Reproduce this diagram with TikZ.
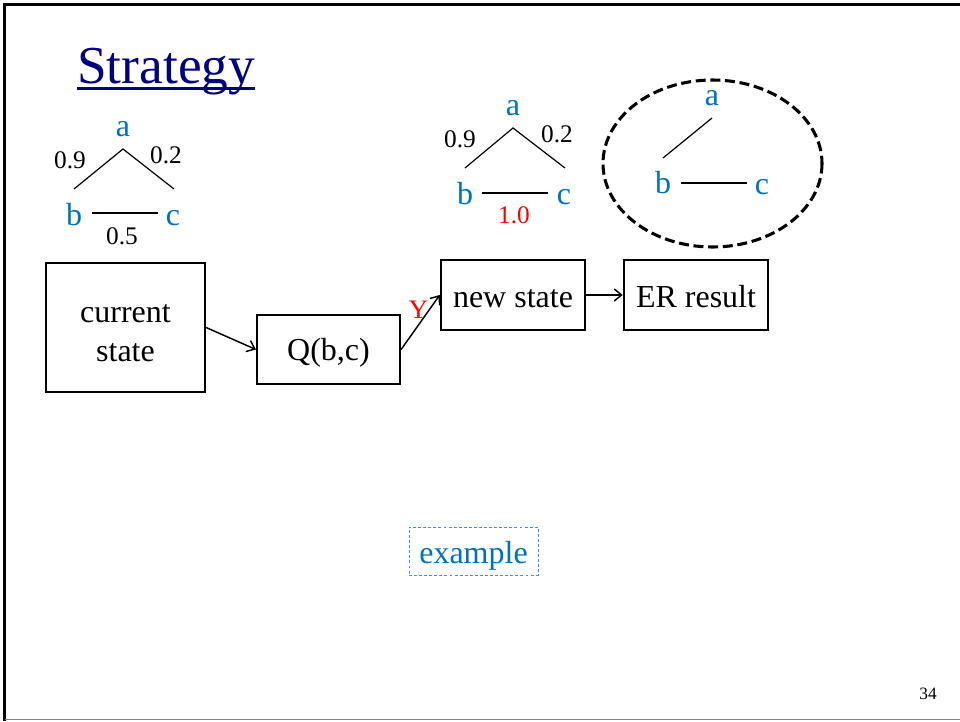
\documentclass[tikz,border=0pt]{standalone}
\usepackage{fontspec}
\setmainfont{Liberation Serif}
\usetikzlibrary{positioning,arrows.meta}
\definecolor{vblue}{RGB}{0,112,192}
\definecolor{titleblue}{RGB}{0,0,128}
\definecolor{red}{RGB}{250,0,0}
\tikzset{
    statebox/.style={
        draw,
        line width=1.9pt,
        minimum width=108pt,
        minimum height=52.5pt,
        inner sep=0pt,
        align=center,
        font=\fontsize{24}{29}\selectfont
    },
    % arrows between the boxes
    flowarrow/.style={
        line width=1.1pt,
        ->,
        >={Straight Barb[length=5.5pt, width=9pt]}
    },
    vertex/.style={text=vblue, anchor=base, inner sep=0pt, font=\fontsize{24}{26}\selectfont},
    weight/.style={anchor=base, inner sep=0pt, font=\fontsize{19}{21}\selectfont},
    thinedge/.style={line width=0.9pt},
    bcedge/.style={line width=1.7pt}
}
\begin{document}
\begin{tikzpicture}[x=0.75pt,y=-0.75pt]
\useasboundingbox (0,0) rectangle (960,721);

% frame
\draw[line width=2.2pt] (4.5,721) -- (4.5,4.5) -- (960,4.5);
\draw[gray, line width=0.8pt] (4.5,719.5) -- (960,719.5);

% title
\node[anchor=base west, inner sep=0pt, text=titleblue, font=\fontsize{40}{44}\selectfont] (title) at (77,83) {Strategy};
\draw[titleblue, line width=2.2pt] ([yshift=-4pt]title.base west) -- ([yshift=-4pt]title.base east);

% ===================== current state graph =====================
\begin{scope}
    \path
    (123,149) coordinate (top1)
    (74,189) coordinate (lf1)
    (174,189) coordinate (rf1)
    (92,213) coordinate (bl1)
    (158,213) coordinate (br1);

    \node[vertex] (a1) at (123,136) {a};
    \node[vertex] (b1) at (74,225) {b};
    \node[vertex] (c1) at (173,225) {c};
    \node[weight] (w1ab) at (70,168) {0.9};
    \node[weight] (w1ac) at (166,163) {0.2};
    \node[weight] (w1bc) at (122,244) {0.5};

    \draw[thinedge] (lf1) -- (top1) -- (rf1);
    \draw[bcedge] (bl1) -- (br1);
\end{scope}

% ===================== new state graph =====================
\begin{scope}
    \path
    (513,128) coordinate (top2)
    (465,168) coordinate (lf2)
    (565,168) coordinate (rf2)
    (482,193) coordinate (bl2)
    (548,193) coordinate (br2);

    \node[vertex] (a2) at (513,115) {a};
    \node[vertex] (b2) at (465,204) {b};
    \node[vertex] (c2) at (564,204) {c};
    \node[weight] (w2ab) at (460,147) {0.9};
    \node[weight] (w2ac) at (557,142) {0.2};
    \node[weight, text=red] (w2bc) at (514,223) {1.0};

    \draw[thinedge] (lf2) -- (top2) -- (rf2);
    \draw[bcedge] (bl2) -- (br2);
\end{scope}

% ===================== ER result =====================
\begin{scope}
    \draw[line width=2.3pt, dash pattern=on 7.5pt off 3.5pt] (712.5,163.5) ellipse [x radius=109.5, y radius=83.5];
    \path
    (712,118) coordinate (top3)
    (663,158) coordinate (lf3)
    (681,183) coordinate (bl3)
    (747,183) coordinate (br3);

    \node[vertex] (a3) at (712,105) {a};
    \node[vertex] (b3) at (663,193) {b};
    \node[vertex] (c3) at (762,194) {c};

    \draw[thinedge] (top3) -- (lf3);
    \draw[bcedge] (bl3) -- (br3);
\end{scope}

% boxes
\node[statebox, minimum width=119pt, minimum height=96.5pt] (cur) at (125.5,327.5) {\rule{0pt}{22pt}current\\state};
\node[statebox, minimum width=107pt, minimum height=51.5pt, text height=18pt, text depth=2pt] (query) at (328.5,349.5) {Q(b,c)};
\node[statebox, text height=18pt, text depth=0pt] (new) at (513,295) {new state};
\node[statebox, text height=18pt, text depth=0pt] (er) at (696,295) {ER result};

\draw[flowarrow] (cur.east) -- (query.west);
\draw[flowarrow] (query.east) -- node[pos=0.72, left, inner sep=0pt, text=red, font=\fontsize{20}{22}\selectfont] (yes) {Y} (new.west);
\draw[flowarrow] (new.east) -- (er.west);

% example
\node[draw=vblue!75, line width=0.6pt, dash pattern=on 2.2pt off 1.6pt, minimum width=96.75pt, minimum height=36pt, inner sep=0pt, text height=18pt, text depth=0pt, text=vblue, font=\fontsize{24}{26}\selectfont] (example) at (473.5,551) {example};

% page number
\node[anchor=base, inner sep=0pt, font=\fontsize{13}{15}\selectfont] (page) at (928,699) {34};
\end{tikzpicture}
\end{document}
